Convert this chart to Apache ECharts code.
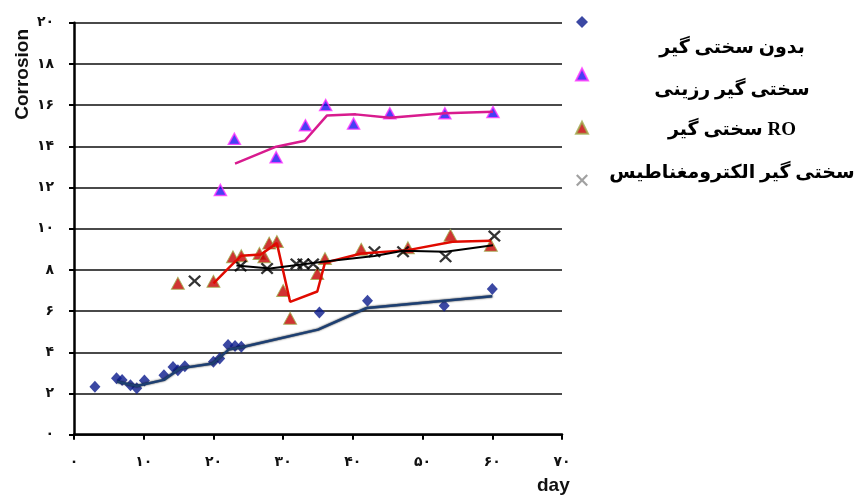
<!DOCTYPE html>
<html>
<head>
<meta charset="utf-8">
<script src="https://cdn.jsdelivr.net/npm/echarts@6/dist/echarts.min.js"></script>
<style>
  html, body { margin: 0; padding: 0; background: #fff; }
  #chart { width: 854px; height: 498px; }
</style>
</head>
<body>
<div id="chart"></div>
<script>
// Series names
const seriesNames = ['بدون سختی گیر', 'سختی گیر رزینی', 'سختی گیر RO', 'سختی گیر الکترومغناطیس'];

// Axis tick labels (Persian digits)
const xTickLabels = ['۰', '۱۰', '۲۰', '۳۰', '۴۰', '۵۰', '۶۰', '۷۰'];
const yTickLabels = ['۰', '۲', '۴', '۶', '۸', '۱۰', '۱۲', '۱۴', '۱۶', '۱۸', '۲۰'];

// No softener: measured points
const plainDays   = [3, 6.1, 6.9, 8.1, 9.0, 10.1, 12.9, 14.2, 14.9, 15.9, 20.0, 20.9, 22.1, 23.1, 24.0, 35.2, 42.1, 53.1, 60.0];
const plainValues = [2.33, 2.74, 2.65, 2.40, 2.25, 2.63, 2.89, 3.29, 3.13, 3.32, 3.54, 3.70, 4.35, 4.30, 4.27, 5.93, 6.50, 6.26, 7.07];
// No softener: trend line
const plainTrendDays   = [6.2, 9.0, 12.9, 15.2, 19.9, 22.2, 24.2, 35.0, 42.0, 60.0];
const plainTrendValues = [2.57, 2.36, 2.66, 3.22, 3.46, 4.13, 4.26, 5.10, 6.15, 6.72];

// Resin softener: measured points
const resinDays   = [21.0, 23.0, 29.0, 33.2, 36.1, 40.1, 45.3, 53.2, 60.1];
const resinValues = [11.88, 14.36, 13.47, 15.02, 16.0, 15.1, 15.6, 15.6, 15.66];
// Resin softener: trend line
const resinTrendDays   = [23.1, 29.0, 33.1, 36.3, 40.4, 45.3, 53.2, 60.1];
const resinTrendValues = [13.16, 13.98, 14.27, 15.5, 15.55, 15.39, 15.6, 15.68];

// RO softener: measured points
const roDays   = [14.9, 20.0, 22.8, 24.0, 26.6, 27.3, 28.0, 29.1, 30.0, 31.0, 34.9, 36.0, 41.2, 47.9, 54.0, 59.8];
const roValues = [7.35, 7.45, 8.64, 8.69, 8.80, 8.64, 9.30, 9.38, 7.0, 5.65, 7.83, 8.55, 9.0, 9.08, 9.68, 9.2];
// RO softener: trend line
const roTrendDays   = [20.0, 23.1, 24.0, 26.8, 29.1, 31.0, 34.9, 36.0, 41.2, 47.9, 54.3, 59.8];
const roTrendValues = [7.35, 8.40, 8.69, 8.75, 9.30, 6.45, 6.95, 8.35, 8.8, 8.96, 9.37, 9.41];

// Electromagnetic softener: measured points
const emDays   = [17.3, 23.9, 27.7, 31.9, 32.9, 34.3, 43.1, 47.2, 53.3, 60.3];
const emValues = [7.46, 8.19, 8.07, 8.29, 8.29, 8.29, 8.88, 8.88, 8.64, 9.64];
// Electromagnetic softener: trend line
const emTrendDays   = [23.3, 28.1, 35.7, 43.1, 47.2, 53.3, 60.1];
const emTrendValues = [8.21, 8.07, 8.40, 8.67, 8.93, 8.88, 9.2];

const pairs = (xs, ys) => xs.map((x, i) => [x, ys[i]]);
const crossPath = 'path://M0,1.3 L1.3,0 L5,3.7 L8.7,0 L10,1.3 L6.3,5 L10,8.7 L8.7,10 L5,6.3 L1.3,10 L0,8.7 L3.7,5 Z';

const chart = echarts.init(document.getElementById('chart'));

const labelFont = { fontFamily: 'DejaVu Sans', fontWeight: 'bold', fontSize: 14, color: '#111' };
const legendFont = 'bold 19px "Liberation Serif", "DejaVu Sans", serif';
const legendCenterX = 732;
const legendTextY = [48, 90, 130, 173];

chart.setOption({
  animation: false,
  backgroundColor: '#ffffff',
  grid: { left: 74, right: 292, top: 22.7, bottom: 63.3, containLabel: false },
  xAxis: {
    type: 'value', min: 0, max: 70, interval: 10,
    axisLine: { show: true, onZero: false, lineStyle: { color: '#000', width: 2.5 } },
    axisTick: { show: true, inside: false, length: 5, lineStyle: { color: '#000', width: 2 } },
    axisLabel: Object.assign({ margin: 21, formatter: v => xTickLabels[Math.round(v / 10)] }, labelFont),
    splitLine: { show: false }
  },
  yAxis: {
    type: 'value', min: 0, max: 20, interval: 2,
    axisLine: { show: true, onZero: false, lineStyle: { color: '#000', width: 2.5 } },
    axisTick: { show: true, inside: false, length: 5, lineStyle: { color: '#000', width: 2 } },
    axisLabel: Object.assign({ margin: 20, formatter: v => yTickLabels[Math.round(v / 2)] }, labelFont),
    splitLine: { show: true, lineStyle: { color: '#4a4a4a', width: 2 } }
  },
  legend: {
    orient: 'vertical', left: 575, top: 16, padding: 0,
    itemWidth: 12, itemHeight: 12, itemGap: 39.4,
    selectedMode: false,
    textStyle: { fontSize: 8, lineHeight: 8 },
    formatter: () => '',
    data: [
      { name: seriesNames[0] },
      { name: seriesNames[1] },
      { name: seriesNames[2] },
      { name: seriesNames[3], itemStyle: { color: '#8a8a8a' } }
    ]
  },
  graphic: [
    { type: 'text', left: 13, top: 29, rotation: Math.PI / 2,
      style: { text: 'Corrosion', font: 'bold 19px "Liberation Sans", Arial, sans-serif', fill: '#111' } },
    { type: 'text', left: 537, top: 476,
      style: { text: 'day', font: 'bold 19px "Liberation Sans", Arial, sans-serif', fill: '#111' } }
  ].concat(seriesNames.map((name, i) => ({
    type: 'text', x: legendCenterX, y: legendTextY[i],
    style: { text: name, font: legendFont, fill: '#000', align: 'center', verticalAlign: 'middle' }
  }))),
  series: [
    { name: seriesNames[0], type: 'scatter', z: 2, symbol: 'diamond', symbolSize: [11, 12],
      itemStyle: { color: '#0a1a8c' }, data: pairs(plainDays, plainValues) },
    { name: seriesNames[1], type: 'scatter', z: 2, symbol: 'triangle', symbolSize: [12, 11],
      itemStyle: { color: '#1a10f0', borderColor: '#ff33ff', borderWidth: 1.5 }, data: pairs(resinDays, resinValues) },
    { name: seriesNames[2], type: 'scatter', z: 2, symbol: 'triangle', symbolSize: [13, 12],
      itemStyle: { color: '#c40000', borderColor: '#9fab4c', borderWidth: 1 }, data: pairs(roDays, roValues) },
    { name: seriesNames[3], type: 'scatter', z: 2, symbol: crossPath, symbolSize: [13, 12],
      itemStyle: { color: '#000' }, data: pairs(emDays, emValues) },

    { name: 'plain-trend', type: 'line', z: 3, symbol: 'none', smooth: false,
      lineStyle: { color: '#1d3f72', width: 2.5, shadowColor: 'rgba(0,0,0,0.8)', shadowBlur: 2 },
      data: pairs(plainTrendDays, plainTrendValues) },
    { name: 'resin-trend', type: 'line', z: 3, symbol: 'none',
      lineStyle: { color: '#d81b8e', width: 2.5 }, data: pairs(resinTrendDays, resinTrendValues) },
    { name: 'ro-trend', type: 'line', z: 3, symbol: 'none',
      lineStyle: { color: '#e00a00', width: 2.5 }, data: pairs(roTrendDays, roTrendValues) },
    { name: 'em-trend', type: 'line', z: 3, symbol: 'none',
      lineStyle: { color: '#000', width: 2 }, data: pairs(emTrendDays, emTrendValues) }
  ]
});
</script>
</body>
</html>
